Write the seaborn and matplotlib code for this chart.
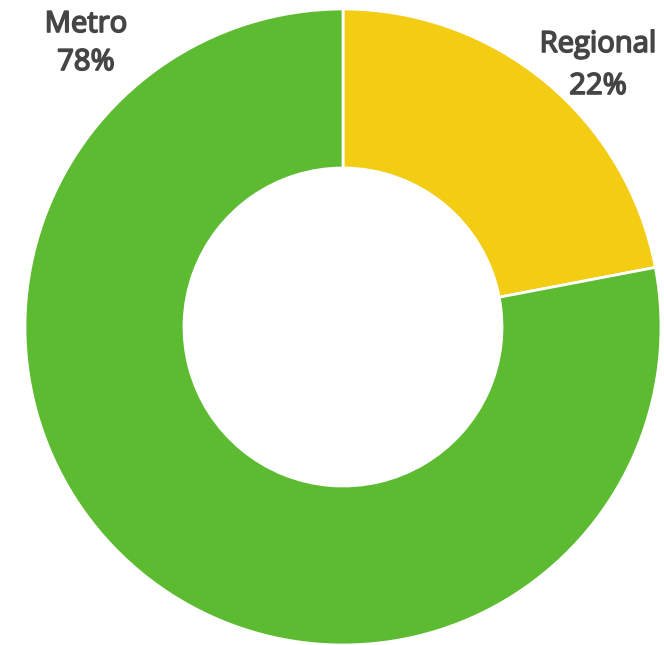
import matplotlib
matplotlib.use("Agg")
import matplotlib.pyplot as plt
import matplotlib.patheffects as pe
import seaborn as sns

categories = ["Regional", "Metro"]
shares = [22, 78]
colors = ["#F3CC14", "#5DBB32"]

sns.set_theme(style="white")
plt.rcParams['font.family'] = ['Open Sans', 'DejaVu Sans']

W, H = 664, 645
fig = plt.figure(figsize=(W / 100, H / 100), dpi=100)
ax = fig.add_axes([25 / W, 0, 636 / W, 636 / H])

ax.pie(shares, colors=colors, startangle=90, counterclock=False,
       wedgeprops=dict(width=0.5, edgecolor="white", linewidth=2))
ax.set_xlim(-1, 1)
ax.set_ylim(-1, 1)
ax.set_aspect("equal")
ax.axis("off")

# labels sit outside the ring near the top corners (x centre, baselines in px)
# regular weight plus a thin stroke reads like the semibold of the original
label_pos = {"Metro": (86, 32, 70), "Regional": (598, 52, 94)}
for cat, val in zip(categories, shares):
    px, y1, y2 = label_pos[cat]
    for txt, py in [(cat, y1), (f"{val}%", y2)]:
        fig.text(px / W, 1 - py / H, txt, ha="center", va="baseline",
                 fontsize=21, color="#454545",
                 path_effects=[pe.withStroke(linewidth=1.2, foreground="#454545")])

fig.savefig("out.png", dpi=100)
